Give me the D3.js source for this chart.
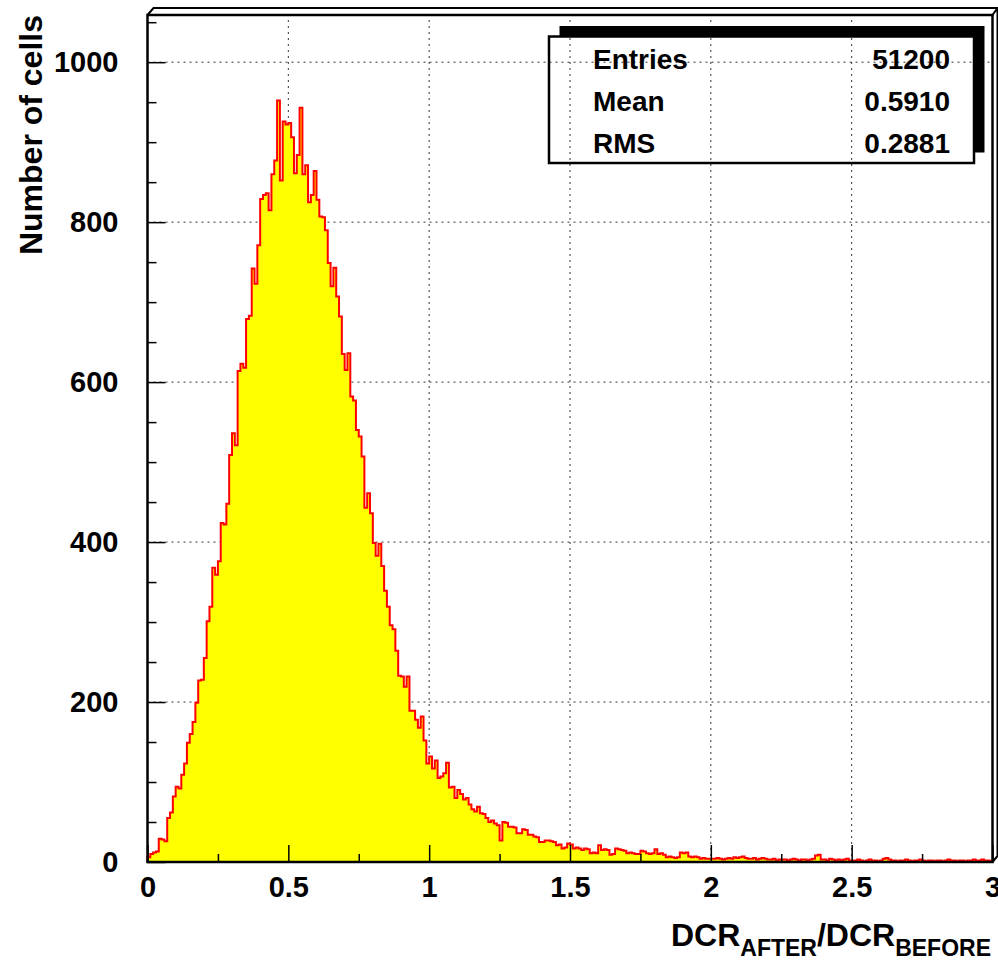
<!DOCTYPE html>
<html>
<head>
<meta charset="utf-8">
<script src="https://cdn.jsdelivr.net/npm/d3@7"></script>
<style>
  body { margin: 0; background: #fff; }
  svg text { font-family: "Liberation Sans", Arial, Helvetica, sans-serif; font-weight: bold; fill: #000; }
</style>
</head>
<body>
<svg id="chart" width="998" height="962"></svg>
<script>
// histogram: 300 bins of width 0.01 between 0 and 3
var binWidth = 0.01;
var binCounts = [
  6, 10, 12, 13, 29, 28, 26, 55, 62, 82,
  94, 92, 109, 123, 149, 160, 175, 199, 227, 228,
  255, 301, 319, 368, 359, 376, 424, 422, 448, 509,
  536, 521, 614, 623, 618, 679, 683, 742, 723, 771,
  829, 834, 836, 815, 860, 877, 952, 852, 926, 922,
  924, 906, 861, 884, 943, 860, 871, 825, 834, 864,
  828, 807, 806, 790, 749, 720, 743, 707, 682, 635,
  615, 636, 582, 577, 540, 532, 507, 443, 461, 436,
  399, 383, 398, 370, 339, 319, 296, 291, 264, 233,
  232, 219, 232, 189, 189, 178, 168, 182, 152, 123,
  132, 117, 127, 105, 107, 111, 124, 93, 94, 80,
  90, 85, 78, 80, 72, 66, 63, 69, 61, 60,
  55, 50, 52, 48, 46, 27, 50, 49, 44, 44,
  43, 36, 36, 41, 40, 34, 34, 32, 31, 25,
  25, 27, 27, 26, 25, 21, 22, 17, 18, 23,
  22, 17, 18, 17, 15, 17, 16, 11, 12, 11,
  21, 15, 16, 15, 9, 10, 17, 16, 15, 14,
  11, 12, 11, 10, 10, 14, 13, 11, 10, 11,
  16, 10, 11, 9, 6, 7, 6, 5, 6, 12,
  11, 12, 7, 6, 7, 6, 4, 5, 4, 4,
  4, 4, 5, 4, 3, 4, 5, 4, 6, 5,
  6, 7, 5, 4, 4, 5, 3, 4, 5, 4,
  3, 3, 4, 2, 3, 3, 3, 2, 3, 4,
  3, 2, 3, 3, 2, 3, 4, 8, 9, 3,
  3, 2, 4, 3, 2, 3, 2, 3, 4, 2,
  2, 2, 3, 2, 1, 2, 3, 2, 2, 1,
  2, 4, 5, 3, 2, 2, 1, 2, 2, 3,
  2, 1, 2, 2, 3, 2, 1, 2, 2, 1,
  2, 2, 1, 2, 3, 2, 2, 1, 2, 2,
  1, 2, 2, 3, 2, 2, 3, 2, 2, 1
];

var xMajorTicks = [0, 0.5, 1, 1.5, 2, 2.5, 3];
var xMinorTicks = [0.25, 0.75, 1.25, 1.75, 2.25, 2.75];
var xTickLabels = ["0", "0.5", "1", "1.5", "2", "2.5", "3"];
var yMajorTicks = [0, 200, 400, 600, 800, 1000];
var yMinorTicks = [50, 100, 150, 250, 300, 350, 450, 500, 550, 650, 700, 750, 850, 900, 950, 1050];
var yTickLabels = ["0", "200", "400", "600", "800", "1000"];

var statNames = ["Entries", "Mean", "RMS"];
var statValues = ["51200", "0.5910", "0.2881"];

var svg = d3.select("#chart");

var frame = {left: 147.5, right: 992.5, top: 15, bottom: 862};

var x = d3.scaleLinear().domain([0, 3]).range([frame.left, frame.right]);
var y = d3.scaleLinear().domain([0, 1059]).range([frame.bottom, frame.top]);

/*
grid: dotted lines on the major ticks
*/
var grid = svg.append("g").attr("class", "grid");
grid.selectAll("line.gx")
  .data(xMajorTicks.slice(1, -1))
  .enter().append("line")
    .attr("x1", d => x(d)).attr("x2", d => x(d))
    .attr("y1", frame.bottom).attr("y2", frame.top)
    .style("stroke", "#333").style("stroke-width", 1)
    .style("stroke-dasharray", "2,4");
grid.selectAll("line.gy")
  .data(yMajorTicks.slice(1))
  .enter().append("line")
    .attr("x1", frame.left).attr("x2", frame.right)
    .attr("y1", d => y(d)).attr("y2", d => y(d))
    .style("stroke", "#333").style("stroke-width", 1)
    .style("stroke-dasharray", "2,4");

/*
histogram: filled step area plus red outline
*/
var points = [{x: 0, c: 0}];
binCounts.forEach(function(c, i){ points.push({x: i * binWidth, c: c}); });
points.push({x: binCounts.length * binWidth, c: binCounts[binCounts.length - 1]});
points.push({x: binCounts.length * binWidth, c: 0});

var area = d3.area()
  .x(d => x(d.x)).y0(y(0)).y1(d => y(d.c))
  .curve(d3.curveStepAfter);
var line = d3.line()
  .x(d => x(d.x)).y(d => y(d.c))
  .curve(d3.curveStepAfter);

svg.append("path")
  .datum(points)
  .attr("d", area)
  .style("fill", "#ffff00").style("stroke", "none");
svg.append("path")
  .datum(points)
  .attr("d", line)
  .style("fill", "none").style("stroke", "#ff0000").style("stroke-width", 2);

/*
axes: ticks point inward, ROOT style
*/
var xAxisMajor = d3.axisBottom(x).tickValues(xMajorTicks).tickSize(-17)
  .tickFormat((d, i) => xTickLabels[i]).tickPadding(14);
var xAxisMinor = d3.axisBottom(x).tickValues(xMinorTicks).tickSize(-8).tickFormat("");
var yAxisMajor = d3.axisLeft(y).tickValues(yMajorTicks).tickSize(-18)
  .tickFormat((d, i) => yTickLabels[i]).tickPadding(29);
var yAxisMinor = d3.axisLeft(y).tickValues(yMinorTicks).tickSize(-9).tickFormat("");

function styleAxis(g){
  g.select(".domain").remove();
  g.attr("font-size", null).attr("font-family", null);
  g.selectAll(".tick line").style("stroke", "#000").style("stroke-width", 1.5);
  g.selectAll(".tick text").style("font-size", "29px");
}

svg.append("g").attr("transform", "translate(0," + frame.bottom + ")").call(xAxisMajor).call(styleAxis);
svg.append("g").attr("transform", "translate(0," + frame.bottom + ")").call(xAxisMinor).call(styleAxis);
svg.append("g").attr("transform", "translate(" + frame.left + ",0)").call(yAxisMajor).call(styleAxis);
svg.append("g").attr("transform", "translate(" + frame.left + ",0)").call(yAxisMinor).call(styleAxis);

/*
frame with bevelled border
*/
svg.append("rect")
  .attr("x", frame.left).attr("y", frame.top)
  .attr("width", frame.right - frame.left).attr("height", frame.bottom - frame.top)
  .style("fill", "none").style("stroke", "#000").style("stroke-width", 2.5);
svg.append("path")
  .attr("d", "M" + frame.left + "," + frame.top + "L" + (frame.left + 6) + "," + (frame.top - 7)
    + "L" + (frame.right + 5) + "," + (frame.top - 7)
    + "L" + (frame.right + 5) + "," + (frame.bottom - 6)
    + "L" + frame.right + "," + frame.bottom
    + "M" + frame.right + "," + frame.top + "L" + (frame.right + 5) + "," + (frame.top - 7))
  .style("fill", "none").style("stroke", "#000").style("stroke-width", 2);

/*
axis titles
*/
var xTitle = svg.append("text")
  .attr("x", 991).attr("y", 946)
  .attr("text-anchor", "end")
  .style("font-size", "32px");
xTitle.append("tspan").text("DCR");
xTitle.append("tspan").attr("dy", 10).style("font-size", "23px").text("AFTER");
xTitle.append("tspan").attr("dy", -10).text("/DCR");
xTitle.append("tspan").attr("dy", 10).style("font-size", "23px").text("BEFORE");

svg.append("text")
  .attr("transform", "translate(42," + frame.top + ") rotate(-90)")
  .attr("text-anchor", "end")
  .style("font-size", "32px")
  .text("Number of cells");

/*
statistics box with shadow
*/
var box = {x: 549, y: 36.5, w: 425, h: 126.5, shadow: 10.5};
svg.append("path")
  .attr("d", "M" + (box.x + box.shadow) + "," + box.y + "V" + (box.y - box.shadow)
    + "H" + (box.x + box.w + box.shadow) + "V" + (box.y + box.h - box.shadow)
    + "H" + (box.x + box.w) + "V" + box.y + "Z")
  .style("fill", "#000");
svg.append("rect")
  .attr("x", box.x).attr("y", box.y).attr("width", box.w).attr("height", box.h)
  .style("fill", "none").style("stroke", "#000").style("stroke-width", 2.5);

var rows = svg.selectAll("g.stat")
  .data(statNames)
  .enter().append("g")
    .attr("transform", (d, i) => "translate(0," + (68.5 + i * 42.2) + ")");
rows.append("text")
  .attr("x", 593).style("font-size", "28px")
  .text(d => d);
rows.append("text")
  .attr("x", 950).attr("text-anchor", "end").style("font-size", "28px")
  .text((d, i) => statValues[i]);
</script>
</body>
</html>
